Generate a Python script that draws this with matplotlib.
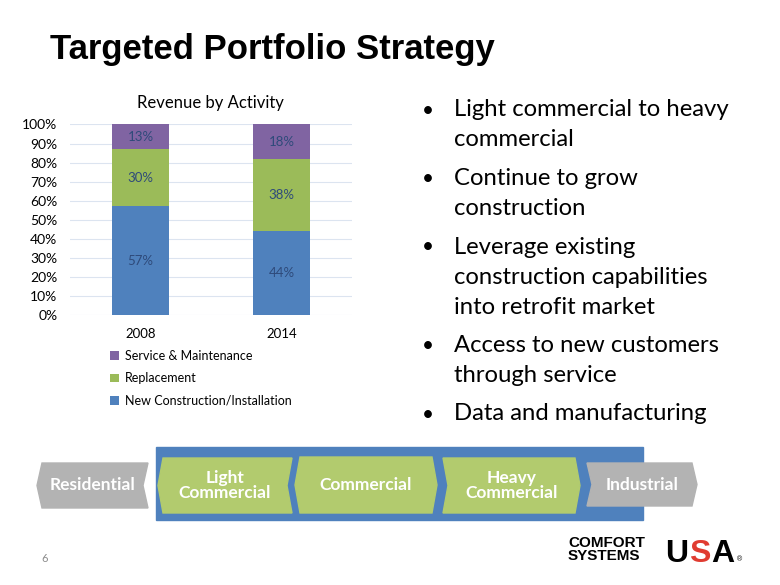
import numpy as np
import matplotlib.pyplot as plt
from matplotlib.patches import Polygon, Rectangle

# chart data
years = ["2008", "2014"]
activities = ["New Construction/Installation", "Replacement", "Service & Maintenance"]
shares = {
    "New Construction/Installation": [57, 44],
    "Replacement": [30, 38],
    "Service & Maintenance": [13, 18],
}
colors = {
    "New Construction/Installation": "#4F81BD",
    "Replacement": "#9BBB59",
    "Service & Maintenance": "#8064A2",
}

bullets = [
    ["Light commercial to heavy", "commercial"],
    ["Continue to grow", "construction"],
    ["Leverage existing", "construction capabilities", "into retrofit market"],
    ["Access to new customers", "through service"],
    ["Data and manufacturing"],
]

segments = ["Residential", "Light\nCommercial", "Commercial", "Heavy\nCommercial", "Industrial"]

W, H = 780, 585
fig = plt.figure(figsize=(W / 100, H / 100), dpi=100)

# full-page overlay in pixel coordinates (y downwards)
page = fig.add_axes([0, 0, 1, 1])
page.set_xlim(0, W)
page.set_ylim(H, 0)
page.axis("off")

page.text(50, 59, "Targeted Portfolio Strategy", fontsize=25, fontweight="bold",
          family="Liberation Sans", ha="left", va="baseline", color="black")

"""
Stacked bar chart
"""
ax = fig.add_axes([70 / W, 1 - 315 / H, 282 / W, 190.5 / H])
x = np.arange(len(years))
bottom = np.zeros(len(years))
for act in activities:
    vals = np.array(shares[act])
    ax.bar(x, vals, 0.4, bottom=bottom, color=colors[act], label=act, zorder=2)
    for xi, b, v in zip(x, bottom, vals):
        ax.text(xi, b + v / 2, f"{v}%", ha="center", va="center", fontsize=9.5,
                color="#2E4A7A", family="Lato", zorder=3)
    bottom += vals

ax.set_xlim(-0.5, 1.5)
ax.set_ylim(0, 100)
ax.set_yticks(np.arange(0, 101, 10))
ax.set_yticklabels([f"{t}%" for t in range(0, 101, 10)], family="Lato", fontsize=10)
ax.set_xticks(x)
ax.set_xticklabels(years, family="Lato", fontsize=9.5)
ax.tick_params(axis="both", length=0)
ax.tick_params(axis="y", pad=9)
ax.tick_params(axis="x", pad=9)
for s in ax.spines.values():
    s.set_visible(False)
ax.yaxis.grid(True, color="#DCE4F0", lw=0.8, zorder=0)
ax.set_axisbelow(True)
ax.set_facecolor("none")

page.text(210, 103, "Revenue by Activity", ha="center", va="center", fontsize=12, family="Lato")

handles, labels = ax.get_legend_handles_labels()
fig.legend(handles[::-1], labels[::-1], loc="upper left", bbox_to_anchor=(110 / W, 1 - 350 / H),
           frameon=False, prop={"family": "Lato", "size": 9}, handlelength=0.7, handleheight=0.7,
           handletextpad=0.5, labelspacing=0.82, borderpad=0, borderaxespad=0)

"""
Bullet list
"""
y = 116.5
for item in bullets:
    page.text(428, y, "\u2022", ha="center", va="baseline", fontsize=15, family="Lato")
    for line in item:
        page.text(454, y, line, ha="left", va="baseline", fontsize=17.2, family="Lato")
        y += 30
    y += 8.5

"""
Market segment chevrons
"""
def chevron(x0, x1, y0, y1, left, right, d=5):
    ym = (y0 + y1) / 2
    if right == "tip":
        pts = [(x0 + d, y0), (x1 - d, y0), (x1, ym), (x1 - d, y1)]
    else:
        pts = [(x0 + d, y0), (x1, y0), (x1 - d, ym), (x1, y1)]
    if left == "tip":
        pts += [(x0 + d, y1), (x0, ym)]
    else:
        pts = [(x0, y0)] + pts[1:] + [(x0, y1), (x0 + d, ym)]
    return pts

page.add_patch(Rectangle((156, 447), 487, 73, color="#4F81BD", zorder=1))

boxes = [
    (37, 148, 463, 508, "tip", "notch", "#B3B3B3"),
    (158, 292, 458, 513, "tip", "notch", "#B2CB6E"),
    (295, 437, 457, 513, "tip", "tip", "#B2CB6E"),
    (443, 580, 458, 513, "notch", "tip", "#B2CB6E"),
    (587, 697, 463, 506, "notch", "tip", "#B3B3B3"),
]
for (x0, x1, y0, y1, l, r, c), name in zip(boxes, segments):
    page.add_patch(Polygon(chevron(x0, x1, y0, y1, l, r), closed=True, color=c, zorder=2))
    page.text((x0 + x1) / 2, (y0 + y1) / 2, name, ha="center", va="center", color="white",
              fontsize=12.5, fontweight="bold", family="Lato", linespacing=0.85, zorder=3)

"""
Footer
"""
page.text(45, 558, "6", ha="center", va="center", fontsize=8, color="#8C8C8C", family="Lato")
page.text(568, 547, "COMFORT", ha="left", va="baseline", fontsize=11, fontweight="bold",
          family="Liberation Sans", color="black")
page.text(568, 560, "SYSTEMS", ha="left", va="baseline", fontsize=11, fontweight="bold",
          family="Liberation Sans", color="black")
page.text(677, 562, "U", ha="center", va="baseline", fontsize=23, fontweight="bold",
          family="Liberation Sans", color="black")
page.text(700, 562, "S", ha="center", va="baseline", fontsize=23, fontweight="bold",
          family="Liberation Sans", color="#E03C31")
page.text(723, 562, "A", ha="center", va="baseline", fontsize=23, fontweight="bold",
          family="Liberation Sans", color="black")
page.text(737, 561, "\u00ae", ha="left", va="baseline", fontsize=5, family="Liberation Sans")

fig.savefig("out.png", dpi=100)
